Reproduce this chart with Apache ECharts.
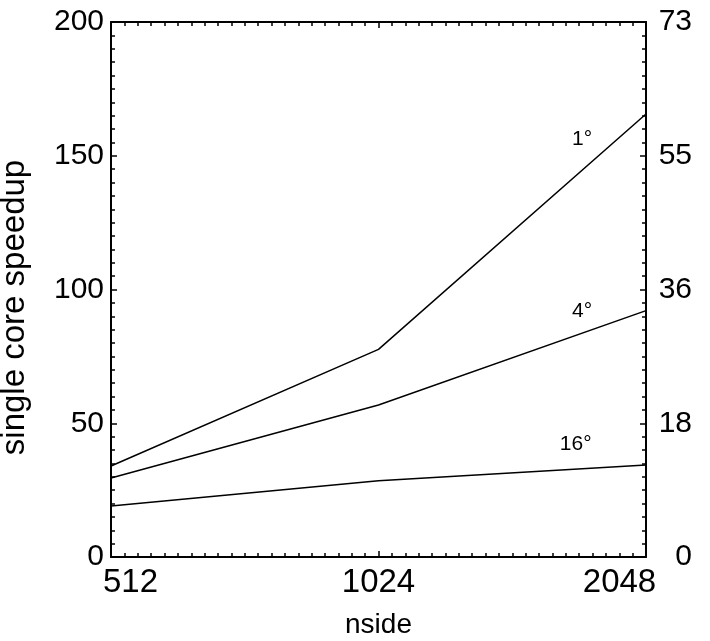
<!DOCTYPE html>
<html><head><meta charset="utf-8">
<script src="https://cdn.jsdelivr.net/npm/echarts@6/dist/echarts.min.js"></script>
<style>html,body{margin:0;padding:0;background:#fff}#c{width:710px;height:641px}</style>
</head><body><div id="c"></div>
<script>
const nside = [512, 1024, 2048];
const xTickLabels = ['512', '1024', '2048'];
const leftTickLabels = ['0', '50', '100', '150', '200'];
const rightTickLabels = ['0', '18', '36', '55', '73'];
const seriesNames = ['1°', '4°', '16°'];
const speedup1 = [34.0, 77.6, 165.6];
const speedup4 = [29.5, 56.8, 92.1];
const speedup16 = [19.1, 28.5, 34.4];
const labelPos = [[1735, 156], [1735, 92], [1707, 42.3]];

const FONT = 'Liberation Sans, Arial, sans-serif';
const chart = echarts.init(document.getElementById('c'), null, {renderer: 'canvas'});
const lineCol = '#000';
function mkSeries(name, vals, lp) {
  return {
    type: 'line', name: name, xAxisIndex: 0, yAxisIndex: 0,
    data: nside.map((n, i) => [n, vals[i]]),
    symbol: 'none', lineStyle: {color: lineCol, width: 1.5}, silent: true,
    markPoint: {
      symbol: 'circle', symbolSize: 0, silent: true,
      label: {show: true, formatter: name, color: '#000', fontSize: 21, fontFamily: FONT, position: 'inside'},
      data: [{coord: lp}]
    }
  };
}
const tickStyle = {color: '#000', width: 1.5};
const minorAxis = (pos) => ({
  type: 'value', min: 0, max: 2, interval: 1, position: pos,
  axisLine: {show: false, onZero: false},
  axisTick: {show: true, inside: true, length: 6, lineStyle: tickStyle},
  minorTick: {show: true, splitNumber: 20, length: 4, lineStyle: tickStyle},
  splitLine: {show: false}, minorSplitLine: {show: false},
  axisLabel: {show: false}
});
chart.setOption({
  animation: false,
  grid: {left: 111, right: 64, top: 22, bottom: 84, containLabel: false, outerBoundsMode: 'none'},
  xAxis: [
    {type: 'log', logBase: 2, min: 512, max: 2048, position: 'bottom',
     name: 'nside', nameLocation: 'middle', nameGap: 54,
     nameTextStyle: {fontSize: 28, fontFamily: FONT, color: '#000'},
     axisLine: {onZero: false, lineStyle: {color: '#000', width: 2}},
     axisTick: {inside: true, length: 6, lineStyle: tickStyle},
     minorTick: {show: false},
     splitLine: {show: false},
     axisLabel: {fontSize: 33, fontFamily: FONT, color: '#000', margin: 9,
       formatter: (v) => {
         const i = nside.indexOf(v);
         const t = i >= 0 ? xTickLabels[i] : '';
         if (i === 0) return '{l|' + t + '}';
         if (i === nside.length - 1) return '{r|' + t + '}';
         return t;
       },
       rich: {l: {fontSize: 33, fontFamily: FONT, color: '#000', padding: [0, 0, 0, 39]},
              r: {fontSize: 33, fontFamily: FONT, color: '#000', padding: [0, 53, 0, 0]}}}
    },
    {type: 'log', logBase: 2, min: 512, max: 2048, position: 'top',
     axisLine: {onZero: false, lineStyle: {color: '#000', width: 2}},
     axisTick: {inside: true, length: 6, lineStyle: tickStyle},
     minorTick: {show: false},
     splitLine: {show: false},
     axisLabel: {show: false}},
    minorAxis('bottom'),
    minorAxis('top')
  ],
  yAxis: [
    {type: 'value', min: 0, max: 200, interval: 50, position: 'left',
     name: 'single core speedup', nameLocation: 'middle', nameGap: 80, nameRotate: 90,
     nameTextStyle: {fontSize: 33, fontFamily: FONT, color: '#000', padding: [0, 36, 0, 0]},
     axisLine: {show: true, onZero: false, lineStyle: {color: '#000', width: 2}},
     axisTick: {show: true, inside: true, length: 6, lineStyle: tickStyle},
     minorTick: {show: true, splitNumber: 10, length: 4, lineStyle: tickStyle},
     splitLine: {show: false},
     axisLabel: {fontSize: 30, fontFamily: FONT, color: '#000', margin: 7,
       formatter: (v) => leftTickLabels[Math.round(v / 50)]}
    },
    {type: 'value', min: 0, max: 200, interval: 50, position: 'right',
     axisLine: {show: true, onZero: false, lineStyle: {color: '#000', width: 2}},
     axisTick: {show: true, inside: true, length: 6, lineStyle: tickStyle},
     minorTick: {show: true, splitNumber: 10, length: 4, lineStyle: tickStyle},
     splitLine: {show: false},
     axisLabel: {fontSize: 30, fontFamily: FONT, color: '#000', margin: 10,
       formatter: (v) => '{a|' + rightTickLabels[Math.round(v / 50)] + '}',
       rich: {a: {width: 36, align: 'right', fontSize: 30, fontFamily: FONT, color: '#000'}}}
    }
  ],
  series: [
    mkSeries(seriesNames[0], speedup1, labelPos[0]),
    mkSeries(seriesNames[1], speedup4, labelPos[1]),
    mkSeries(seriesNames[2], speedup16, labelPos[2])
  ]
});
</script></body></html>
